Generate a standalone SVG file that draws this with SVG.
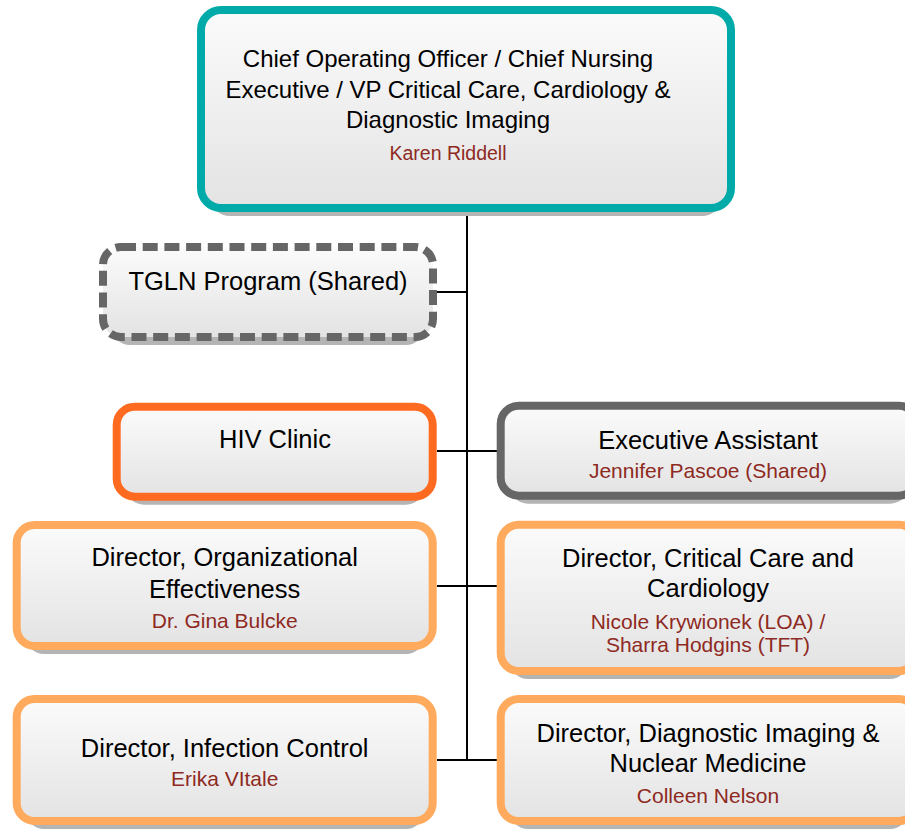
<svg xmlns="http://www.w3.org/2000/svg" width="905" height="830" viewBox="0 0 905 830">
<defs>
<linearGradient id="fillg" x1="0" y1="0" x2="0" y2="1">
<stop offset="0" stop-color="#fbfbfb"/>
<stop offset="1" stop-color="#e3e3e3"/>
</linearGradient>
<style>
.box{fill:url(#fillg);stroke-width:8}
.shadow{fill:#b4b4b4}
.teal{stroke:#00aaa8}
.gray{stroke:#666666}
.dash{stroke:#666666;stroke-dasharray:15 6.7}
.hiv{stroke:#ff6a21}
.lor{stroke:#ffaa5c}
text{font-family:"Liberation Sans",Arial,sans-serif;text-anchor:middle}
.t{font-size:25.5px;fill:#000}
.n{font-size:21px;fill:#8e2a1f}
.tt{font-size:24px;fill:#000}
.tn{font-size:19.5px;fill:#8e2a1f}
.conn line{stroke:#000;stroke-width:2}
</style>
</defs>
<rect width="905" height="830" fill="#ffffff"/>
<g id="connectors" class="conn">
<line x1="467" y1="212" x2="467" y2="761"/>
<line x1="437" y1="292" x2="467" y2="292"/>
<line x1="437" y1="451" x2="497" y2="451"/>
<line x1="437" y1="586" x2="497" y2="586"/>
<line x1="437" y1="760" x2="497" y2="760"/>
</g>
<g id="coo">
<rect class="shadow" x="210" y="18" width="512" height="198" rx="20"/>
<rect class="box teal" x="201" y="10" width="530" height="198" rx="20"/>
<text class="tt" x="448" y="67">Chief Operating Officer / Chief Nursing</text>
<text class="tt" x="448" y="97.5">Executive / VP Critical Care, Cardiology &amp;</text>
<text class="tt" x="448" y="128">Diagnostic Imaging</text>
<text class="tn" x="448" y="160">Karen Riddell</text>
</g>
<g id="tgln">
<rect class="shadow" x="112" y="255" width="312" height="90" rx="18"/>
<rect class="box dash" x="103" y="247" width="330" height="90" rx="18"/>
<text class="t" x="268" y="290">TGLN Program (Shared)</text>
</g>
<g id="hiv">
<rect class="shadow" x="126" y="414.7" width="298" height="90" rx="18"/>
<rect class="box hiv" x="116.7" y="406.7" width="316" height="90" rx="18"/>
<text class="t" x="275" y="447.5">HIV Clinic</text>
</g>
<g id="exec-assistant">
<rect class="shadow" x="510" y="413.7" width="398" height="90" rx="18"/>
<rect class="box gray" x="500.7" y="405.7" width="416" height="90" rx="18"/>
<text class="t" x="708" y="449">Executive Assistant</text>
<text class="n" x="708" y="478">Jennifer Pascoe (Shared)</text>
</g>
<g id="dir-oe">
<rect class="shadow" x="26" y="533" width="398" height="121" rx="18"/>
<rect class="box lor" x="16.7" y="525" width="416" height="121" rx="18"/>
<text class="t" x="224.7" y="566">Director, Organizational</text>
<text class="t" x="224.7" y="598">Effectiveness</text>
<text class="n" x="224.7" y="628">Dr. Gina Bulcke</text>
</g>
<g id="dir-cc">
<rect class="shadow" x="510" y="532.7" width="398" height="146.3" rx="18"/>
<rect class="box lor" x="500.7" y="524.7" width="416" height="146.3" rx="18"/>
<text class="t" x="708" y="566.5">Director, Critical Care and</text>
<text class="t" x="708" y="597">Cardiology</text>
<text class="n" x="708" y="629">Nicole Krywionek (LOA) /</text>
<text class="n" x="708" y="651.5">Sharra Hodgins (TFT)</text>
</g>
<g id="dir-ic">
<rect class="shadow" x="26" y="707" width="398" height="122" rx="18"/>
<rect class="box lor" x="16.7" y="699" width="416" height="122" rx="18"/>
<text class="t" x="224.7" y="756.5">Director, Infection Control</text>
<text class="n" x="224.7" y="786">Erika VItale</text>
</g>
<g id="dir-di">
<rect class="shadow" x="510" y="707" width="398" height="122" rx="18"/>
<rect class="box lor" x="500.7" y="699" width="416" height="122" rx="18"/>
<text class="t" x="708" y="741.5">Director, Diagnostic Imaging &amp;</text>
<text class="t" x="708" y="771.5">Nuclear Medicine</text>
<text class="n" x="708" y="803">Colleen Nelson</text>
</g>
</svg>
